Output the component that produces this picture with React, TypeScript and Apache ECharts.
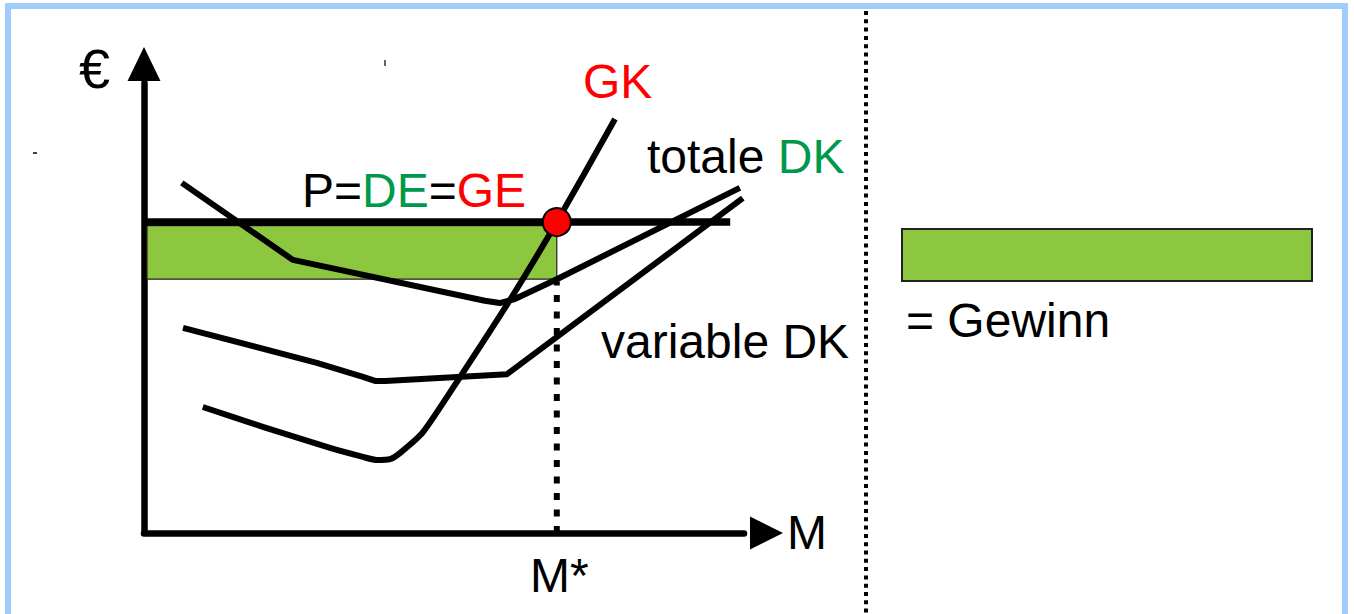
import React, { useEffect, useRef } from "react";
import * as echarts from "echarts";

// Data in chart units: x = quantity M (0..100), y = € (0..100)
const totalDK: [number, number][] = [
  [6.3, 77.8], [24.8, 60.7], [56.8, 51.6], [59.3, 51.1], [61.8, 52.0], [68.8, 56.4], [99.3, 76.7],
];
const variableDK: [number, number][] = [
  [6.5, 45.6], [28.8, 37.8], [36.5, 34.7], [38.5, 33.8], [40.2, 33.8], [60.5, 35.3], [99.8, 74.4],
];
const GK: [number, number][] = [
  [9.8, 28.0], [19.8, 23.6], [31.0, 18.9], [36.5, 16.9], [38.8, 16.2], [41.0, 16.4], [42.7, 17.8],
  [46.5, 22.4], [52.7, 34.7], [61.0, 51.8], [68.8, 69.1], [78.5, 92.0],
];
const M_STAR = 68.8;
const PRICE = 69.1;
const DK_AT_MSTAR = 56.4;
const PRICE_LINE_END = 97.7;

const FONT = '"Liberation Sans", Arial, sans-serif';
const FS = 48;
const GREEN_TEXT = "#00994c";
const RED = "#ff0000";
const GREEN_FILL = "#8dc63f";

function txt(x: number, y: number, text: string, fill = "#000", rich?: any, fs = FS) {
  return {
    type: "text",
    x,
    y,
    z: 50,
    style: {
      text,
      fill,
      fontSize: fs,
      fontFamily: FONT,
      textAlign: "left",
      textVerticalAlign: "middle",
      align: "left",
      verticalAlign: "middle",
      rich,
    },
  };
}

export default function App() {
  const ref = useRef<HTMLDivElement>(null);
  useEffect(() => {
    document.body.style.margin = "0";
    const chart = echarts.init(ref.current!, null, { renderer: "svg" });
    const lineBase = { type: "line", showSymbol: false, symbol: "none", silent: true };
    const blackLine = (w: number) => ({ color: "#000", width: w, cap: "butt", join: "round" });
    const richBase = { fontSize: FS, fontFamily: FONT };
    chart.setOption({
      animation: false,
      backgroundColor: "#fff",
      grid: { left: 144, top: 83, width: 600, height: 450, containLabel: false, outerBoundsMode: "none" },
      xAxis: {
        type: "value",
        min: 0,
        max: 100,
        axisLine: {
          show: true,
          onZero: false,
          symbol: ["none", "triangle"],
          symbolSize: [33, 33],
          symbolOffset: [0, 22.5],
          lineStyle: { color: "#000", width: 6.5 },
        },
        axisTick: { show: false },
        axisLabel: { show: false },
        splitLine: { show: false },
      },
      yAxis: {
        type: "value",
        min: 0,
        max: 100,
        axisLine: {
          show: true,
          onZero: false,
          symbol: ["none", "triangle"],
          symbolSize: [33, 34],
          symbolOffset: [0, 19],
          lineStyle: { color: "#000", width: 6.5 },
        },
        axisTick: { show: false },
        axisLabel: { show: false },
        splitLine: { show: false },
      },
      series: [
        {
          ...lineBase,
          name: "Preis",
          data: [[0, PRICE], [PRICE_LINE_END, PRICE]],
          lineStyle: { color: "#000", width: 7.5, cap: "butt" },
          z: 4,
          markArea: {
            silent: true,
            itemStyle: { color: GREEN_FILL, borderColor: "#222", borderWidth: 1.2 },
            data: [[{ coord: [0.5, PRICE - 0.8] }, { coord: [M_STAR, DK_AT_MSTAR] }]],
          },
        },
        {
          ...lineBase,
          name: "M*",
          data: [[M_STAR, 0], [M_STAR, DK_AT_MSTAR - 0.5]],
          lineStyle: { color: "#000", width: 6, type: [7, 9.5] },
          z: 3,
        },
        { ...lineBase, name: "totale DK", data: totalDK, lineStyle: blackLine(6), z: 5 },
        { ...lineBase, name: "variable DK", data: variableDK, lineStyle: blackLine(6), z: 5 },
        {
          ...lineBase,
          name: "GK",
          data: GK,
          smooth: 0.2,
          smoothMonotone: "none",
          lineStyle: blackLine(6),
          z: 5,
        },
        {
          type: "scatter",
          name: "Optimum",
          data: [[M_STAR, PRICE]],
          symbolSize: 28,
          itemStyle: { color: RED, borderColor: "#000", borderWidth: 2, opacity: 1 },
          z: 10,
          silent: true,
        },
      ],
      graphic: [
        {
          type: "rect",
          shape: { x: 8, y: 6, width: 1337, height: 640 },
          style: { fill: "none", stroke: "#9fccfc", lineWidth: 6 },
          z: 1,
          silent: true,
        },
        {
          type: "line",
          shape: { x1: 866, y1: 11, x2: 866, y2: 614 },
          style: { stroke: "#000", lineWidth: 4, lineDash: [4, 4.3] },
          z: 1,
          silent: true,
        },
        {
          type: "rect",
          shape: { x: 902, y: 229, width: 410, height: 52 },
          style: { fill: GREEN_FILL, stroke: "#222", lineWidth: 2 },
          z: 2,
          silent: true,
        },
        {
          type: "line",
          shape: { x1: 385, y1: 60, x2: 385, y2: 66 },
          style: { stroke: "#000", lineWidth: 1.2 },
          silent: true,
        },
        {
          type: "line",
          shape: { x1: 33, y1: 153, x2: 37, y2: 153 },
          style: { stroke: "#000", lineWidth: 1.5 },
          silent: true,
        },
        txt(79, 68, "€", "#000", undefined, 56),
        txt(583, 81, "GK", RED),
        txt(302, 190, "{a|P=}{g|DE}{a|=}{r|GE}", "#000", {
          a: { fill: "#000", ...richBase },
          g: { fill: GREEN_TEXT, ...richBase },
          r: { fill: RED, ...richBase },
        }),
        txt(647, 156, "{a|totale }{g|DK}", "#000", {
          a: { fill: "#000", ...richBase },
          g: { fill: GREEN_TEXT, ...richBase },
        }),
        txt(601, 341, "variable DK"),
        txt(906, 320, "= Gewinn"),
        txt(787, 532, "M"),
        txt(530, 575, "M*"),
      ],
    });
    return () => chart.dispose();
  }, []);
  return <div ref={ref} style={{ width: 1354, height: 614 }} />;
}
